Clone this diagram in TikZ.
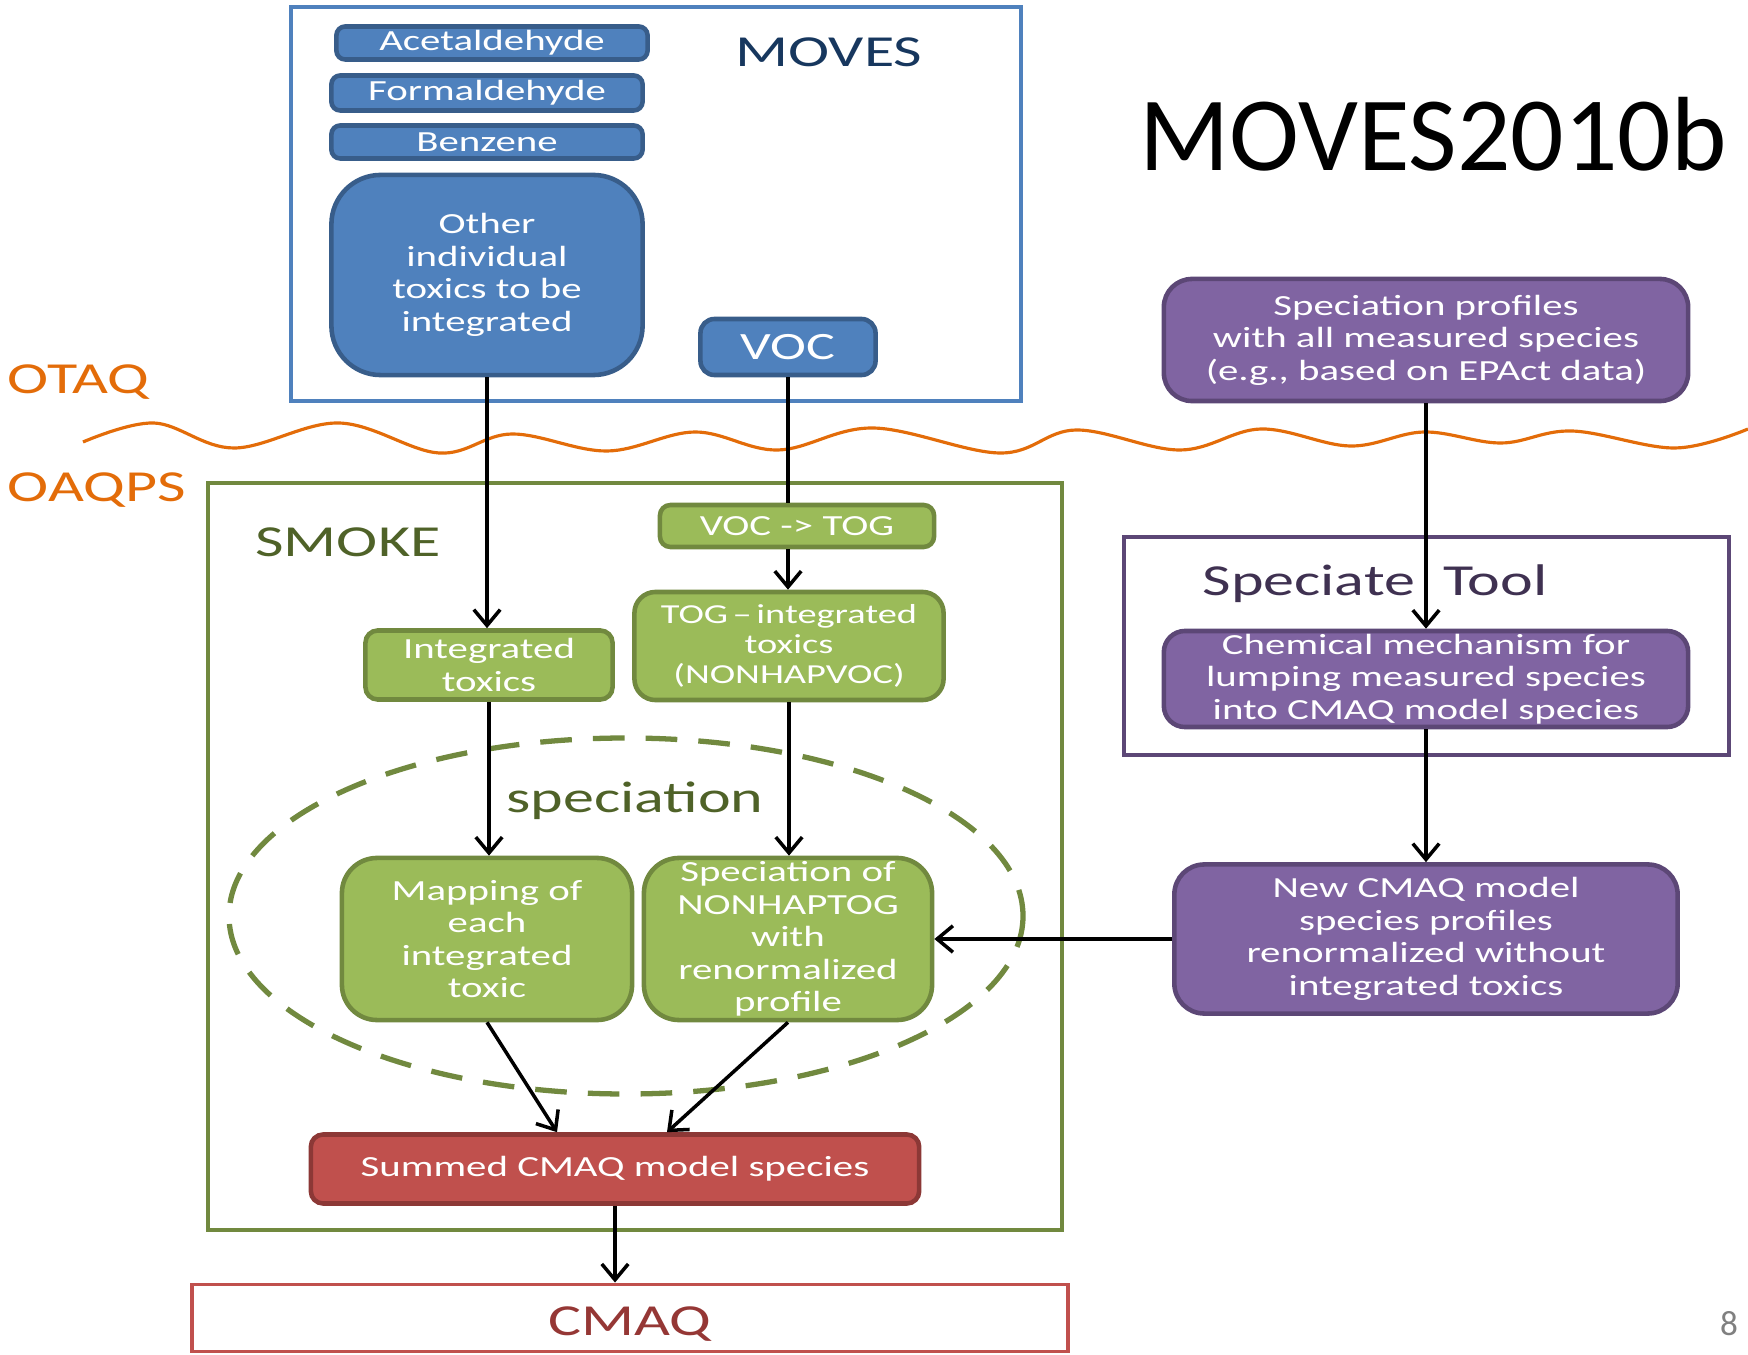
\documentclass[tikz,border=0pt]{standalone}
\usepackage{fontspec}
\setmainfont{Carlito}[FakeStretch=1.4]
\newfontfamily\titlefont{Carlito}
\usetikzlibrary{arrows.meta,calc}

\definecolor{bluefill}{HTML}{4F81BD}
\definecolor{blueline}{HTML}{385D8A}
\definecolor{bluetext}{HTML}{17375E}
\definecolor{greenfill}{HTML}{9BBB59}
\definecolor{greenline}{HTML}{71893F}
\definecolor{greentext}{HTML}{4F6228}
\definecolor{purplefill}{HTML}{8064A2}
\definecolor{purpleline}{HTML}{5C4776}
\definecolor{purpletext}{HTML}{3F3151}
\definecolor{redfill}{HTML}{C0504D}
\definecolor{redline}{HTML}{8C3836}
\definecolor{redtext}{HTML}{953735}
\definecolor{otaqorange}{HTML}{E36C09}

\begin{document}
\begin{tikzpicture}[x=0.01cm,y=-0.01cm,
    boxtext/.style={align=center,text=white,inner sep=0pt,line width=1.3pt,
      font=\fontsize{8.3}{9.25}\selectfont},
    bluebox/.style={boxtext,draw=blueline,fill=bluefill},
    greenbox/.style={boxtext,draw=greenline,fill=greenfill},
    purplebox/.style={boxtext,draw=purpleline,fill=purplefill},
    redbox/.style={boxtext,draw=redline,fill=redfill},
    biglabel/.style={inner sep=0pt,font=\fontsize{12.6}{15}\selectfont},
    arr/.style={-{Straight Barb[length=4.5pt,width=7.5pt]},line width=1pt}]
  \useasboundingbox (0,0) rectangle (1748,1355);

  % MOVES side
  \draw[bluefill,line width=1.1pt] (291,7) rectangle (1021,401);
  \node[biglabel,text=bluetext] (moves) at (829,52) {MOVES};
  \node[inner sep=0pt,font=\titlefont\fontsize{30}{36}\selectfont] (title) at (1433,134) {MOVES2010b};
  \node[bluebox,rounded corners=2.5pt,minimum width=3.11cm,minimum height=0.33cm] (acet) at (492,43) {Acetaldehyde};
  \node[bluebox,rounded corners=2.5pt,minimum width=3.11cm,minimum height=0.35cm] (form) at (487,93) {Formaldehyde};
  \node[bluebox,rounded corners=2.5pt,minimum width=3.11cm,minimum height=0.33cm] (benz) at (487,142) {Benzene};
  \node[bluebox,rounded corners=14pt,minimum width=3.11cm,minimum height=2.0cm] (other) at (487,275)
    {Other\\individual\\toxics to be\\integrated};
  \node[bluebox,rounded corners=4pt,minimum width=1.75cm,minimum height=0.56cm,
    font=\fontsize{11}{13}\selectfont] (voc) at (788,347) {VOC};
  \node[purplebox,rounded corners=8pt,minimum width=5.24cm,minimum height=1.22cm] (profiles) at (1426,340)
    {Speciation profiles\\with all measured species\\(e.g., based on EPAct data)};

  % the line between the two offices
  \node[biglabel,text=otaqorange,anchor=west] (otaq) at (7,382) {OTAQ};
  \node[biglabel,text=otaqorange,anchor=west] (oaqps) at (7,490) {OAQPS};
  \draw[otaqorange,line width=0.9pt] plot[smooth,tension=0.6] coordinates {
    (83,442) (154,423) (234,448) (339,423) (439,453) (512,434) (607,451)
    (695,432) (778,450) (873,428) (1000,453) (1076,430) (1180,450)
    (1261,429) (1350,446) (1424,432) (1501,443) (1572,431) (1675,448) (1748,429)};

  % SMOKE side
  \draw[greenline,line width=1.1pt] (208,483) rectangle (1062,1230);
  \node[biglabel,text=greentext] (smoke) at (348,542) {SMOKE};
  \node[greenbox,rounded corners=3pt,minimum width=2.74cm,minimum height=0.42cm] (vt) at (797,526) {VOC -> TOG};
  \node[greenbox,rounded corners=3.5pt,minimum width=2.47cm,minimum height=0.69cm] (integ) at (489,665)
    {Integrated\\toxics};
  \node[greenbox,rounded corners=6pt,minimum width=3.09cm,minimum height=1.08cm,
    font=\fontsize{7.8}{8.5}\selectfont] (tog) at (789,646)
    {TOG\,--\,integrated\\toxics\\(NONHAPVOC)};
  \draw[greenline,line width=1.5pt,dash pattern=on 9pt off 6pt] (626,916) ellipse [x radius=397,y radius=178];
  \node[biglabel,text=greentext] (spec) at (635,801) {speciation};
  \node[greenbox,rounded corners=10pt,minimum width=2.9cm,minimum height=1.62cm] (mapping) at (487,939)
    {Mapping of\\each\\integrated\\toxic};
  \node[greenbox,rounded corners=10pt,minimum width=2.88cm,minimum height=1.62cm] (specnon) at (788,939)
    {Speciation of\\NONHAPTOG\\with\\renormalized\\profile};
  \node[redbox,rounded corners=3.5pt,minimum width=6.08cm,minimum height=0.69cm] (summed) at (615,1169)
    {Summed CMAQ model species};
  \node[biglabel,draw=redfill,line width=1.1pt,text=redtext,minimum width=8.75cm,minimum height=0.67cm,
    text height=9.8pt,text depth=0pt] (cmaq) at (630,1318) {CMAQ};

  % Speciate Tool
  \draw[purpleline,line width=1.1pt] (1124,537) rectangle (1729,755);
  \node[biglabel,text=purpletext] (tool) at (1375,584) {Speciate\ \ Tool};
  \node[purplebox,rounded corners=6pt,minimum width=5.24cm,minimum height=0.96cm] (chem) at (1426,679)
    {Chemical mechanism for\\lumping measured species\\into CMAQ model species};
  \node[purplebox,rounded corners=8.5pt,minimum width=5.03cm,minimum height=1.49cm] (newcmaq) at (1426,939)
    {New CMAQ model\\species profiles\\renormalized without\\integrated toxics};

  \node[inner sep=0pt,text=gray,font=\titlefont\fontsize{10}{12}\selectfont] (page) at (1729,1324) {8};

  % connectors
  \draw[arr] (other.south) -- (other.south |- integ.north);
  \draw[line width=1pt] (voc.south) -- (voc.south |- vt.north);
  \draw[arr] (voc.south |- vt.south) -- (voc.south |- tog.north);
  \draw[arr] (integ.south) -- (integ.south |- mapping.north);
  \draw[arr] (tog.south) -- (tog.south |- specnon.north);
  \draw[arr] (mapping.south) -- ($(summed.north)+(-58,0)$);
  \draw[arr] (specnon.south) -- ($(summed.north)+(52,0)$);
  \draw[arr] (summed.south) -- (summed.south |- cmaq.north);
  \draw[arr] (profiles.south) -- (chem.north);
  \draw[arr] (chem.south) -- (newcmaq.north);
  \draw[arr] (newcmaq.west) -- (specnon.east);
\end{tikzpicture}
\end{document}
